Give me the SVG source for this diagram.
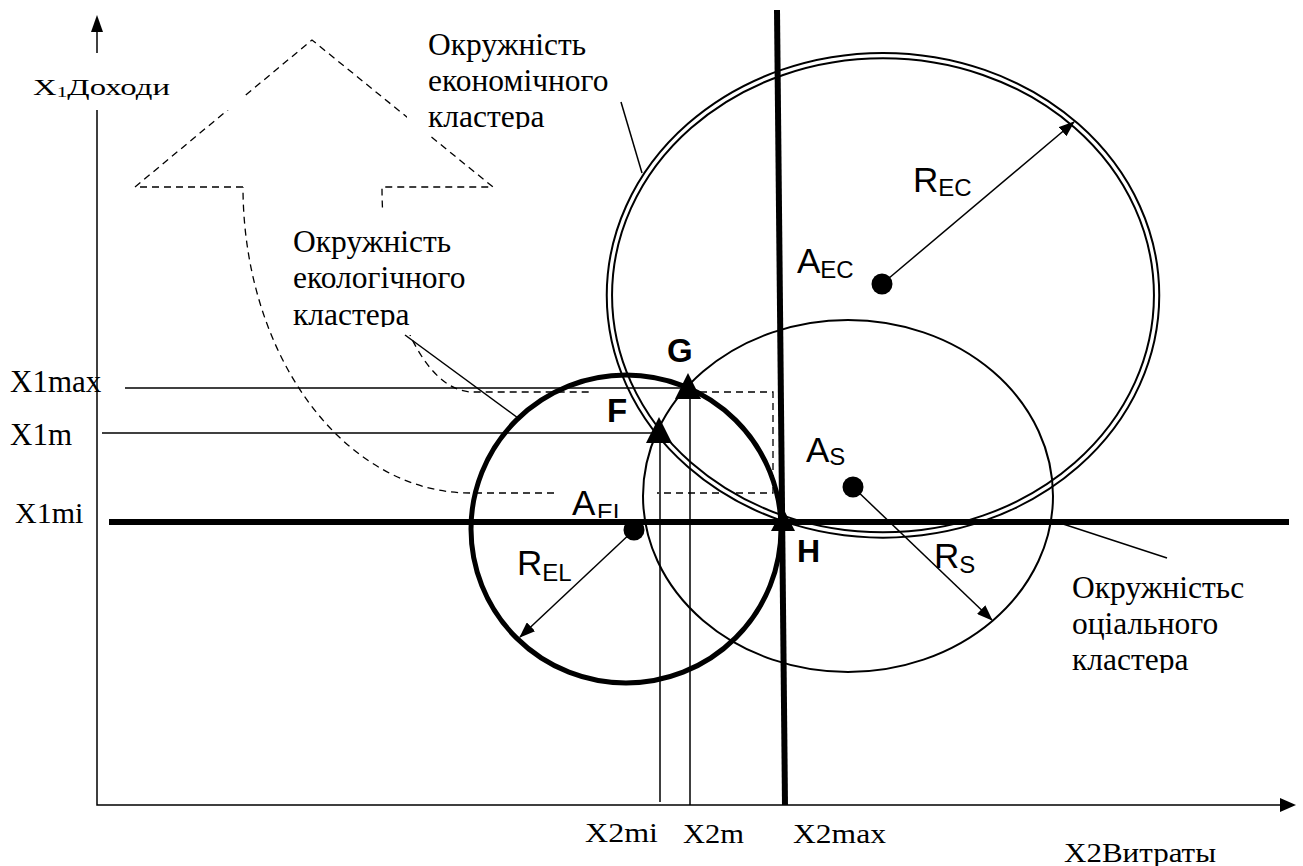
<svg xmlns="http://www.w3.org/2000/svg" width="1303" height="866" viewBox="0 0 1303 866">
<style>
.thin{stroke:#000;stroke-width:1.5;fill:none}
.dash{stroke:#000;stroke-width:1.3;fill:none;stroke-dasharray:7 5}
.thick{stroke:#000;stroke-width:6;fill:none}
.mask{fill:#fff;stroke:none}
.tnr{font-family:'Liberation Serif','Times New Roman',serif}
.ar{font-family:'Liberation Sans',Arial,sans-serif}
</style>
<defs>
<marker id="ah" markerUnits="userSpaceOnUse" markerWidth="16" markerHeight="12" refX="15" refY="6" orient="auto"><path d="M0,0 L16,6 L0,12 z" fill="#000"/></marker>
<clipPath id="cEc"><rect x="400" y="0" width="300" height="129"/></clipPath>
<clipPath id="cEl"><rect x="280" y="200" width="300" height="127"/></clipPath>
<clipPath id="cS"><rect x="1050" y="560" width="253" height="113"/></clipPath>
<clipPath id="cAel"><rect x="590" y="490" width="60" height="28"/></clipPath>
</defs>
<rect width="1303" height="866" fill="#fff"/>

<g id="big-arrow">
<path class="dash" d="M243,187 L135,187 L312,40 L493,187 L382,187 A91,205 0 0 0 473,392 L590,392 M700,392 L773,392 L773,493 L657,493 M554,493 L470,493 A227,306 0 0 1 243,187"/>
<rect class="mask" x="20" y="53" width="225" height="57"/>
<rect class="mask" x="407" y="15" width="200" height="120"/>
<rect class="mask" x="285" y="211" width="185" height="124"/>
</g>

<g id="econ-cluster" class="ar">
<ellipse cx="883" cy="295.3" rx="273.6" ry="239.7" fill="none" stroke="#000" stroke-width="7.3"/>
<ellipse cx="883" cy="295.3" rx="273.6" ry="239.7" fill="none" stroke="#fff" stroke-width="3.3"/>
<circle cx="882" cy="284" r="10.5"/>
<text x="797" y="273" font-size="35">A<tspan font-size="24" dy="5">EC</tspan></text>
<text x="913" y="192" font-size="35">R<tspan font-size="24" dy="4">EC</tspan></text>
</g>

<g id="social-cluster" class="ar">
<ellipse cx="848" cy="496" rx="205" ry="176" fill="none" stroke="#000" stroke-width="2"/>
<circle cx="853" cy="487" r="10.5"/>
<text x="806" y="462" font-size="35">A<tspan font-size="24" dy="3">S</tspan></text>
<text x="934" y="568" font-size="35">R<tspan font-size="24" dy="5">S</tspan></text>
</g>

<g id="eco-cluster" class="ar">
<ellipse cx="626" cy="529" rx="155" ry="154" fill="none" stroke="#000" stroke-width="5"/>
<circle cx="634" cy="530" r="10.5"/>
<text x="572" y="515" font-size="35">A</text>
<text x="597" y="521" font-size="24" clip-path="url(#cAel)">EL</text>
<text x="517" y="575" font-size="35">R<tspan font-size="24" dy="6">EL</tspan></text>
</g>

<g id="connectors">
<path class="thin" d="M97,110 V805 H1281"/>
<path class="thin" d="M97,53 V31"/>
<polygon points="97,15 91,32 103,32"/>
<polygon points="1296,805 1280,798 1280,812"/>
<path class="thin" d="M125,388 H685"/>
<path class="thin" d="M102,433 H655"/>
<path class="thin" d="M660,430 V802"/>
<path class="thin" d="M690,392 V805"/>
<path class="thick" d="M109,522 H1289"/>
<path class="thick" d="M777,10 L785,805"/>
<path class="thin" d="M621,102 L642,173"/>
<path class="thin" d="M405,335 L518,418"/>
<path class="thin" d="M1060,523 L1167,558"/>
<path class="thin" d="M882,284 L1074,122" marker-end="url(#ah)"/>
<path class="thin" d="M634,530 L520,637" marker-end="url(#ah)"/>
<path class="thin" d="M853,487 L992,620" marker-end="url(#ah)"/>
</g>

<g id="points" class="ar" font-weight="bold">
<g id="point-G">
<polygon points="688,373 675,399 701,399"/>
<text x="667" y="362" font-size="33">G</text>
</g>
<g id="point-F">
<polygon points="659,417 646,443 672,443"/>
<text x="607" y="422" font-size="33">F</text>
</g>
<g id="point-H">
<polygon points="783,508 771,531 795,531"/>
<text x="797" y="562" font-size="32">H</text>
</g>
</g>

<g id="label-econ" clip-path="url(#cEc)" class="tnr" font-size="31.5">
<text x="428" y="55">Окружність</text>
<text x="428" y="91">економічного</text>
<text x="428" y="127">кластера</text>
</g>
<g id="label-eco" clip-path="url(#cEl)" class="tnr" font-size="31.5">
<text x="293" y="252">Окружність</text>
<text x="293" y="288">екологічного</text>
<text x="293" y="325">кластера</text>
</g>
<g id="label-social" clip-path="url(#cS)" class="tnr" font-size="31.5">
<text x="1072" y="598">Окружністьс</text>
<text x="1072" y="634">оціального</text>
<text x="1072" y="670">кластера</text>
</g>

<g id="axis-labels" class="tnr">
<text x="33" y="95" font-size="23" textLength="137" lengthAdjust="spacingAndGlyphs">X<tspan font-size="15" dy="2">1</tspan><tspan dy="-2">Доходи</tspan></text>
<text x="10" y="392" font-size="31">X1max</text>
<text x="10" y="445" font-size="31">X1m</text>
<text x="15" y="523" font-size="30">X1mi</text>
<text x="585" y="842" font-size="27" textLength="73" lengthAdjust="spacingAndGlyphs">X2mi</text>
<text x="683" y="843" font-size="27" textLength="61" lengthAdjust="spacingAndGlyphs">X2m</text>
<text x="793" y="843" font-size="27" textLength="93" lengthAdjust="spacingAndGlyphs">X2max</text>
<text x="1064" y="862" font-size="27" textLength="152" lengthAdjust="spacingAndGlyphs">X2Витраты</text>
</g>
</svg>
